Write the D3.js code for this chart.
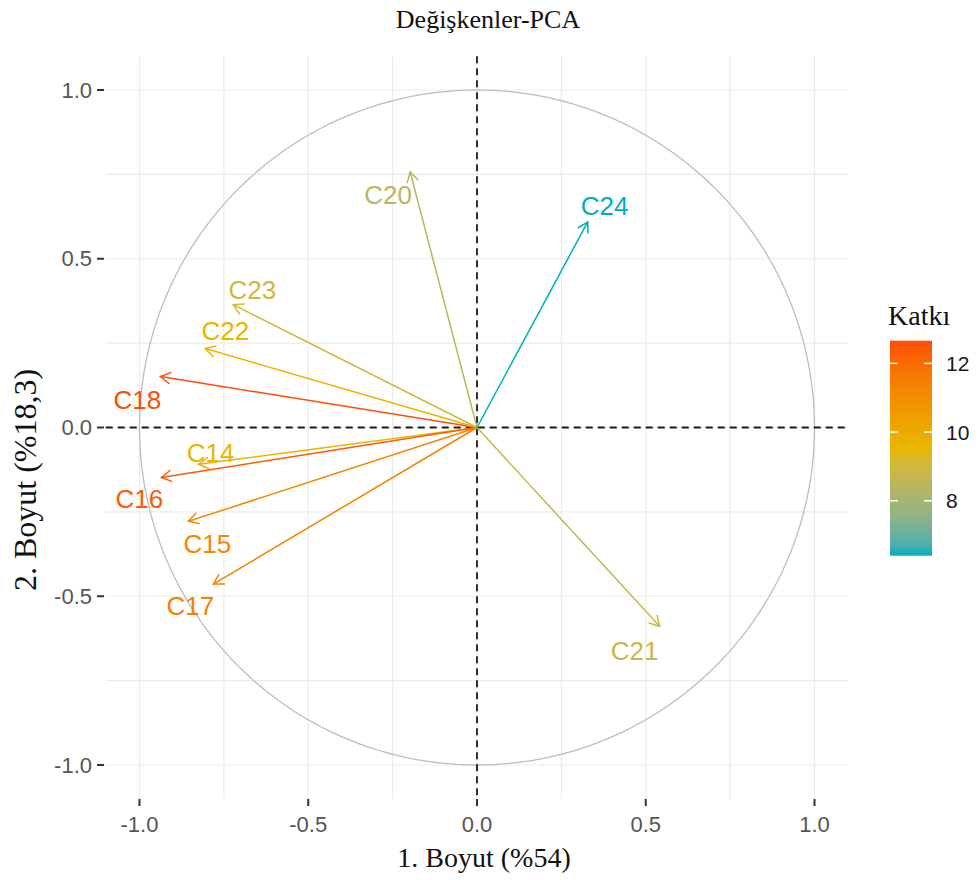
<!DOCTYPE html>
<html>
<head>
<meta charset="utf-8">
<script src="https://cdn.jsdelivr.net/npm/d3@7"></script>
<style>
  html, body { margin: 0; padding: 0; background: #ffffff; }
  svg { display: block; }
</style>
</head>
<body>
<svg id="chart" width="979" height="880"></svg>
<script>
// Variable loadings on the first two principal components
const variables = ["C14", "C15", "C16", "C17", "C18", "C20", "C21", "C22", "C23", "C24"];
const dim1 = [-0.825, -0.855, -0.935, -0.781, -0.938, -0.198, 0.541, -0.805, -0.722, 0.328];
const dim2 = [-0.109, -0.278, -0.148, -0.464, 0.151, 0.757, -0.589, 0.234, 0.364, 0.609];
// Contribution (Katkı) of each variable, used for colour
const katki = [9.6, 11.2, 12.4, 11.4, 12.66, 8.5, 8.8, 9.7, 9.0, 6.40];

const axisTicks = [-1.0, -0.5, 0.0, 0.5, 1.0];
const gridTicks = [-1.0, -0.75, -0.5, -0.25, 0.0, 0.25, 0.5, 0.75, 1.0];
const legendTicks = [8, 10, 12];
const gradientColours = ["#00AFBB", "#E7B800", "#FC4E07"];

// label offsets (px) from each arrow tip, same order as variables
const labelNudge = [[12, -11], [19, 23], [-22, 22], [-23, 22], [-23, 23],
                    [-22, 23], [-25, 25], [20, -18], [19, -15], [17, -16]];

const svg = d3.select("#chart");

const x = d3.scaleLinear().domain([-1.1, 1.1]).range([477 - 1.1 * 337.5, 477 + 1.1 * 337.5]);
const y = d3.scaleLinear().domain([-1.1, 1.1]).range([427.5 + 1.1 * 337.5, 427.5 - 1.1 * 337.5]);

const kExt = d3.extent(katki);
const colour = d3.scaleLinear()
  .domain([kExt[0], (kExt[0] + kExt[1]) / 2, kExt[1]])
  .range(gradientColours)
  .interpolate(d3.interpolateLab);

const [x0, x1] = x.range();
const [y0, y1] = y.range(); // y0 bottom, y1 top

// grid
const grid = svg.append("g");
grid.selectAll("line.v").data(gridTicks).join("line")
  .attr("x1", d => x(d)).attr("x2", d => x(d))
  .attr("y1", y1).attr("y2", y0)
  .attr("stroke", "#ebebeb").attr("stroke-width", 1.2);
grid.selectAll("line.h").data(gridTicks).join("line")
  .attr("y1", d => y(d)).attr("y2", d => y(d))
  .attr("x1", x0).attr("x2", x1)
  .attr("stroke", "#ebebeb").attr("stroke-width", 1.2);

// correlation circle
const circle = d3.range(0, 361).map(a => [Math.cos(a * Math.PI / 180), Math.sin(a * Math.PI / 180)]);
svg.append("path")
  .datum(circle)
  .attr("d", d3.line().x(d => x(d[0])).y(d => y(d[1])))
  .attr("fill", "none").attr("stroke", "#bdbdbd").attr("stroke-width", 1.3);

// reference lines through the origin
svg.append("line").attr("x1", x0).attr("x2", x1).attr("y1", y(0)).attr("y2", y(0))
  .attr("stroke", "#1a1a1a").attr("stroke-width", 1.8).attr("stroke-dasharray", "7,5");
svg.append("line").attr("y1", y1).attr("y2", y0).attr("x1", x(0)).attr("x2", x(0))
  .attr("stroke", "#1a1a1a").attr("stroke-width", 1.8).attr("stroke-dasharray", "7,5");

// arrows
const data = variables.map((v, i) => ({ name: v, a: dim1[i], b: dim2[i], k: katki[i], nudge: labelNudge[i] }));
const arrows = svg.append("g");
const headLen = 11, headAng = Math.PI / 6;
data.forEach(d => {
  const xs = x(0), ys = y(0), xe = x(d.a), ye = y(d.b);
  const ang = Math.atan2(ye - ys, xe - xs);
  const c = colour(d.k);
  const g = arrows.append("g").attr("stroke", c).attr("stroke-width", 1.5).attr("fill", "none")
    .attr("stroke-linecap", "round");
  g.append("line").attr("x1", xs).attr("y1", ys).attr("x2", xe).attr("y2", ye);
  const p = d3.path();
  p.moveTo(xe - headLen * Math.cos(ang - headAng), ye - headLen * Math.sin(ang - headAng));
  p.lineTo(xe, ye);
  p.lineTo(xe - headLen * Math.cos(ang + headAng), ye - headLen * Math.sin(ang + headAng));
  g.append("path").attr("d", p.toString());
});

// arrow labels
svg.append("g").selectAll("text").data(data).join("text")
  .attr("x", d => x(d.a) + d.nudge[0])
  .attr("y", d => y(d.b) + d.nudge[1])
  .attr("text-anchor", "middle")
  .attr("dominant-baseline", "central")
  .attr("font-family", "'Liberation Sans', Arial, sans-serif")
  .attr("font-size", 26)
  .attr("fill", d => colour(d.k))
  .text(d => d.name);

// axes ticks and labels (plain hyphen for negatives)
const fmt = v => d3.format(".1f")(v).replace("\u2212", "-");
const yAxis = svg.append("g");
yAxis.selectAll("line").data(axisTicks).join("line")
  .attr("x1", 97).attr("x2", 104).attr("y1", d => y(d)).attr("y2", d => y(d))
  .attr("stroke", "#333").attr("stroke-width", 2);
yAxis.selectAll("text").data(axisTicks).join("text")
  .attr("x", 92).attr("y", d => y(d))
  .attr("text-anchor", "end").attr("dominant-baseline", "central")
  .attr("font-family", "'Liberation Sans', Arial, sans-serif").attr("font-size", 22)
  .attr("fill", "#555").text(d => fmt(d));

const xAxis = svg.append("g");
xAxis.selectAll("line").data(axisTicks).join("line")
  .attr("y1", 799).attr("y2", 806).attr("x1", d => x(d)).attr("x2", d => x(d))
  .attr("stroke", "#333").attr("stroke-width", 2);
xAxis.selectAll("text").data(axisTicks).join("text")
  .attr("x", d => x(d)).attr("y", 824)
  .attr("text-anchor", "middle").attr("dominant-baseline", "central")
  .attr("font-family", "'Liberation Sans', Arial, sans-serif").attr("font-size", 22)
  .attr("fill", "#555").text(d => fmt(d));

// titles
svg.append("text").attr("x", 488).attr("y", 28).attr("text-anchor", "middle")
  .attr("font-family", "'Liberation Serif', 'Times New Roman', serif").attr("font-size", 26)
  .attr("fill", "#111").text("Değişkenler-PCA");
svg.append("text").attr("x", 484).attr("y", 867).attr("text-anchor", "middle")
  .attr("font-family", "'Liberation Serif', 'Times New Roman', serif").attr("font-size", 28)
  .attr("fill", "#111").text("1. Boyut (%54)");
svg.append("text").attr("transform", "translate(36,480) rotate(-90)").attr("text-anchor", "middle")
  .attr("font-family", "'Liberation Serif', 'Times New Roman', serif").attr("font-size", 32)
  .attr("fill", "#111").text("2. Boyut (%18,3)");

// colour bar legend
const barX = 890, barW = 42, barTop = 340.7, barBot = 555.7;
const ly = d3.scaleLinear().domain(kExt).range([barBot, barTop]);
const defs = svg.append("defs");
const grad = defs.append("linearGradient").attr("id", "katkiGrad")
  .attr("x1", 0).attr("y1", 1).attr("x2", 0).attr("y2", 0);
d3.range(0, 1.0001, 0.05).forEach(t => {
  grad.append("stop").attr("offset", t)
    .attr("stop-color", colour(kExt[0] + t * (kExt[1] - kExt[0])));
});
svg.append("rect").attr("x", barX).attr("y", barTop).attr("width", barW).attr("height", barBot - barTop)
  .attr("fill", "url(#katkiGrad)");
const lg = svg.append("g");
legendTicks.forEach(t => {
  lg.append("line").attr("x1", barX).attr("x2", barX + 8).attr("y1", ly(t)).attr("y2", ly(t))
    .attr("stroke", "#fff").attr("stroke-width", 1.5);
  lg.append("line").attr("x1", barX + barW - 8).attr("x2", barX + barW).attr("y1", ly(t)).attr("y2", ly(t))
    .attr("stroke", "#fff").attr("stroke-width", 1.5);
  lg.append("text").attr("x", 946).attr("y", ly(t)).attr("dominant-baseline", "central")
    .attr("font-family", "'Liberation Sans', Arial, sans-serif").attr("font-size", 21)
    .attr("fill", "#1a1a1a").text(t);
});
svg.append("text").attr("x", 888).attr("y", 325)
  .attr("font-family", "'Liberation Serif', 'Times New Roman', serif").attr("font-size", 28)
  .attr("fill", "#111").text("Katkı");
</script>
</body>
</html>
